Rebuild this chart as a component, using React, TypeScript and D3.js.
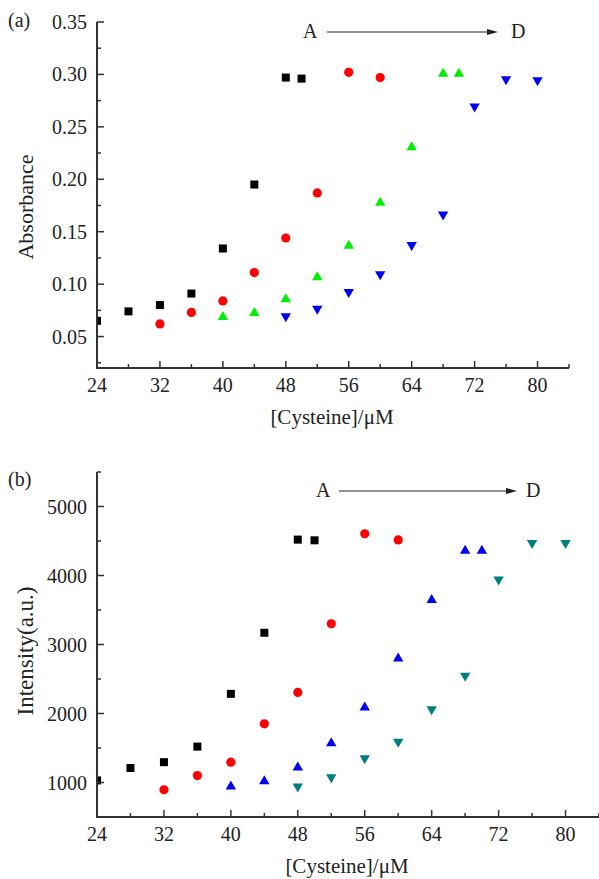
import React from "react";
import * as d3 from "d3";

const xTicks = [24, 32, 40, 48, 56, 64, 72, 80];
const xMinor = [28, 36, 44, 52, 60, 68, 76, 84];

const absTicks = [0.05, 0.1, 0.15, 0.2, 0.25, 0.3, 0.35];
const absMinor = [0.025, 0.075, 0.125, 0.175, 0.225, 0.275, 0.325];
const intTicks = [1000, 2000, 3000, 4000, 5000];
const intMinor = [1500, 2500, 3500, 4500, 5500];

// Panel (a): absorbance
const absAx = [24, 28, 32, 36, 40, 44, 48, 50];
const absAy = [0.065, 0.074, 0.08, 0.091, 0.134, 0.195, 0.297, 0.296];
const absBx = [32, 36, 40, 44, 48, 52, 56, 60];
const absBy = [0.062, 0.073, 0.084, 0.111, 0.144, 0.187, 0.302, 0.297];
const absCx = [40, 44, 48, 52, 56, 60, 64, 68, 70];
const absCy = [0.07, 0.074, 0.087, 0.108, 0.138, 0.179, 0.232, 0.302, 0.302];
const absDx = [48, 52, 56, 60, 64, 68, 72, 76, 80];
const absDy = [0.068, 0.075, 0.091, 0.108, 0.136, 0.165, 0.268, 0.294, 0.293];

// Panel (b): intensity
const intAx = [24, 28, 32, 36, 40, 44, 48, 50];
const intAy = [1030, 1210, 1295, 1520, 2285, 3170, 4520, 4510];
const intBx = [32, 36, 40, 44, 48, 52, 56, 60];
const intBy = [895, 1100, 1295, 1850, 2305, 3300, 4605, 4515];
const intCx = [40, 44, 48, 52, 56, 60, 64, 68, 70];
const intCy = [965, 1040, 1240, 1590, 2110, 2820, 3665, 4380, 4380];
const intDx = [48, 52, 56, 60, 64, 68, 72, 76, 80];
const intDy = [920, 1055, 1330, 1570, 2040, 2525, 3920, 4450, 4450];

const FONT = "'Liberation Serif', 'Times New Roman', serif";
const AX = "#333";

type Shape = "square" | "circle" | "up" | "down";

function marker(shape: Shape, cx: number, cy: number, color: string, key: string) {
  if (shape === "square") return <rect key={key} x={cx - 4} y={cy - 4} width={8} height={8} fill={color} />;
  if (shape === "circle") return <circle key={key} cx={cx} cy={cy} r={4.6} fill={color} />;
  const w = 5.2, h = 4.5;
  const pts = shape === "up"
    ? [[cx - w, cy + h], [cx + w, cy + h], [cx, cy - h]]
    : [[cx - w, cy - h], [cx + w, cy - h], [cx, cy + h]];
  return <path key={key} d={d3.line()(pts as [number, number][]) + "Z"} fill={color} />;
}

interface PanelProps {
  id: string;
  letter: string;
  x0: number; x1: number; y0: number; y1: number;
  yDomain: [number, number];
  yTicks: number[]; yMinor: number[];
  fmt: (v: number) => string;
  series: { xs: number[]; ys: number[]; shape: Shape; color: string }[];
  yTitle: string; yTitleX: number; yTitleY: number; yTitleSize: number;
  xTitleX: number; xTitleY: number;
  letterY: number;
  arrowY: number; ax0: number; ax1: number; aLabelX: number; dLabelX: number;
}

function Panel(p: PanelProps) {
  const x = d3.scaleLinear().domain([24, 84]).range([p.x0, p.x1]);
  const y = d3.scaleLinear().domain(p.yDomain).range([p.y1, p.y0]);
  const clipId = "clip-" + p.id;
  return (
    <g>
      <defs>
        <clipPath id={clipId}>
          <rect x={p.x0} y={p.y0 - 20} width={p.x1 - p.x0 + 20} height={p.y1 - p.y0 + 20} />
        </clipPath>
      </defs>
      <g clipPath={`url(#${clipId})`}>
        {p.series.map((s, si) =>
          s.xs.map((xv, i) => marker(s.shape, x(xv), y(s.ys[i]), s.color, `${si}-${i}`))
        )}
      </g>
      <line x1={p.x0} x2={p.x0} y1={p.y0} y2={p.y1 + 1} stroke={AX} strokeWidth={2} />
      <line x1={p.x0 - 1} x2={p.x1} y1={p.y1} y2={p.y1} stroke={AX} strokeWidth={2} />
      {p.yTicks.map((t) => (
        <g key={"yt" + t}>
          <line x1={p.x0} x2={p.x0 + 7} y1={y(t)} y2={y(t)} stroke={AX} strokeWidth={1.5} />
          <text x={p.x0 - 10} y={y(t)} dy="0.35em" textAnchor="end" fontSize={20} fontFamily={FONT} fill="#222">
            {p.fmt(t)}
          </text>
        </g>
      ))}
      {p.yMinor.filter((t) => t >= p.yDomain[0] && t <= p.yDomain[1]).map((t) => (
        <line key={"ym" + t} x1={p.x0} x2={p.x0 + 4} y1={y(t)} y2={y(t)} stroke={AX} strokeWidth={1.5} />
      ))}
      {xTicks.map((t) => (
        <g key={"xt" + t}>
          <line x1={x(t)} x2={x(t)} y1={p.y1} y2={p.y1 - 7} stroke={AX} strokeWidth={1.5} />
          <text x={x(t)} y={p.y1 + 24} textAnchor="middle" fontSize={20} fontFamily={FONT} fill="#222">
            {t}
          </text>
        </g>
      ))}
      {xMinor.map((t) => (
        <line key={"xm" + t} x1={x(t)} x2={x(t)} y1={p.y1} y2={p.y1 - 4} stroke={AX} strokeWidth={1.5} />
      ))}
      <text x={p.xTitleX} y={p.xTitleY} textAnchor="middle" fontSize={21} fontFamily={FONT} fill="#222">
        [Cysteine]/μM
      </text>
      <text
        transform={`translate(${p.yTitleX},${p.yTitleY}) rotate(-90)`}
        textAnchor="middle"
        fontSize={p.yTitleSize}
        fontFamily={FONT}
        fill="#222"
      >
        {p.yTitle}
      </text>
      <text x={8} y={p.letterY} fontSize={20} fontFamily={FONT} fill="#222">{p.letter}</text>
      <text x={p.aLabelX} y={p.arrowY + 6} fontSize={20} fontFamily={FONT} fill="#222">A</text>
      <line x1={p.ax0} x2={p.ax1 - 8} y1={p.arrowY} y2={p.arrowY} stroke="#222" strokeWidth={1.2} />
      <path d={`M${p.ax1},${p.arrowY} L${p.ax1 - 11},${p.arrowY - 3} L${p.ax1 - 11},${p.arrowY + 3} Z`} fill="#222" />
      <text x={p.dLabelX} y={p.arrowY + 6} fontSize={20} fontFamily={FONT} fill="#222">D</text>
    </g>
  );
}

export default function App() {
  return (
    <svg width={599} height={879} style={{ position: "absolute", left: 0, top: 0, background: "#fff" }}>
      <rect width={599} height={879} fill="#fff" />
      <Panel
        id="a" letter="(a)"
        x0={97} x1={569} y0={22} y1={368}
        yDomain={[0.02, 0.35]} yTicks={absTicks} yMinor={absMinor}
        fmt={(v) => d3.format(".2f")(v)}
        series={[
          { xs: absAx, ys: absAy, shape: "square", color: "#000" },
          { xs: absBx, ys: absBy, shape: "circle", color: "#ff0000" },
          { xs: absCx, ys: absCy, shape: "up", color: "#00ee00" },
          { xs: absDx, ys: absDy, shape: "down", color: "#0000ee" },
        ]}
        yTitle="Absorbance" yTitleX={33} yTitleY={207} yTitleSize={22}
        xTitleX={332} xTitleY={424}
        letterY={27}
        arrowY={32} ax0={327} ax1={498} aLabelX={303} dLabelX={511}
      />
      <Panel
        id="b" letter="(b)"
        x0={97} x1={599} y0={472} y1={817}
        yDomain={[500, 5500]} yTicks={intTicks} yMinor={intMinor}
        fmt={(v) => String(v)}
        series={[
          { xs: intAx, ys: intAy, shape: "square", color: "#000" },
          { xs: intBx, ys: intBy, shape: "circle", color: "#ff0000" },
          { xs: intCx, ys: intCy, shape: "up", color: "#0000ee" },
          { xs: intDx, ys: intDy, shape: "down", color: "#007f7f" },
        ]}
        yTitle="Intensity(a.u.)" yTitleX={33} yTitleY={651} yTitleSize={23}
        xTitleX={347} xTitleY={873}
        letterY={486}
        arrowY={491} ax0={339} ax1={517} aLabelX={316} dLabelX={526}
      />
    </svg>
  );
}
